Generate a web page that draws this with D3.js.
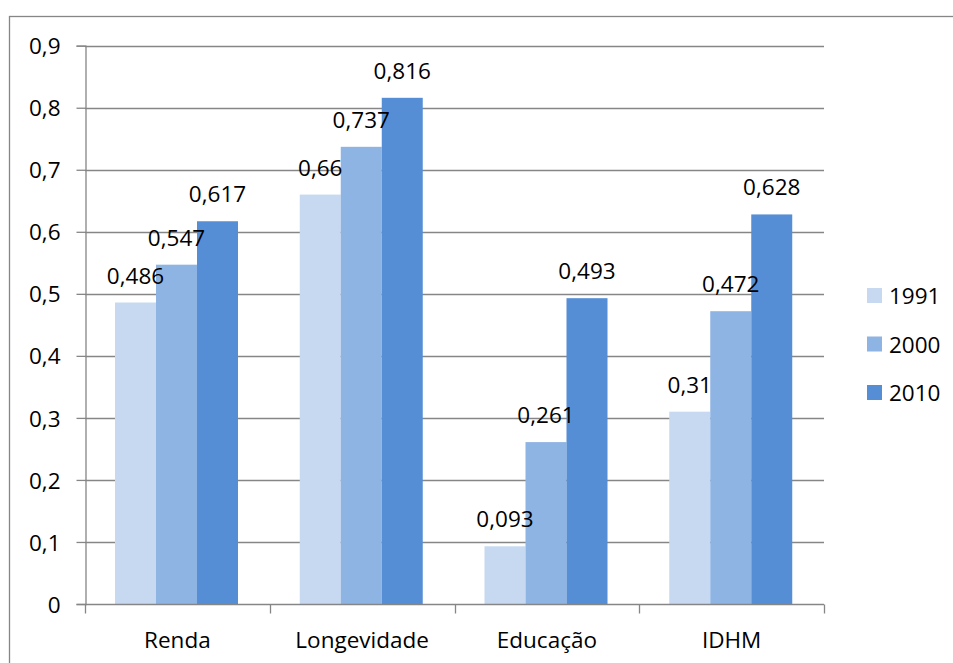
<!DOCTYPE html>
<html>
<head>
<meta charset="utf-8">
<script src="https://cdn.jsdelivr.net/npm/d3@7"></script>
<style>
  html, body { margin: 0; padding: 0; background: #fff; }
  svg { display: block; }
  text { font-family: "Open Sans", sans-serif; fill: #000; }
</style>
</head>
<body>
<svg id="chart" width="953" height="663"></svg>
<script>
// Índices do IDHM por dimensão e ano
const categories = ["Renda", "Longevidade", "Educação", "IDHM"];
const years = ["1991", "2000", "2010"];
const values1991 = [0.486, 0.66, 0.093, 0.31];
const values2000 = [0.547, 0.737, 0.261, 0.472];
const values2010 = [0.617, 0.816, 0.493, 0.628];
const yTicks = [0, 0.1, 0.2, 0.3, 0.4, 0.5, 0.6, 0.7, 0.8, 0.9];
const colors = ["#C6D9F1", "#8EB4E3", "#558ED5"];

const seriesValues = [values1991, values2000, values2010];
const fmt = v => String(v).replace(".", ",");
const fontSize = "22.5px";

const svg = d3.select("#chart");

// Moldura do gráfico (só borda esquerda e superior ficam visíveis)
svg.append("rect")
  .attr("x", 9.5).attr("y", 16.5)
  .attr("width", 1000).attr("height", 1000)
  .attr("fill", "none").attr("stroke", "#868686").attr("stroke-width", 1.3);

const plotLeft = 85, plotRight = 824, plotTop = 45.7, plotBottom = 604;

const y = d3.scaleLinear().domain([0, 0.9]).range([plotBottom, plotTop]);
const x0 = d3.scaleBand().domain(categories).range([plotLeft, plotRight]).paddingInner(0).paddingOuter(0);
const x1 = d3.scaleBand().domain(years).range([30, 153]);

// Linhas de grade horizontais
svg.append("g").selectAll("line")
  .data(yTicks.filter(t => t > 0))
  .join("line")
  .attr("x1", plotLeft).attr("x2", plotRight)
  .attr("y1", d => Math.round(y(d)) + 0.5).attr("y2", d => Math.round(y(d)) + 0.5)
  .attr("stroke", "#868686").attr("stroke-width", 1.3);

// Barras
const groups = svg.append("g").selectAll("g")
  .data(categories)
  .join("g")
  .attr("transform", d => `translate(${x0(d)},0)`);

groups.selectAll("rect")
  .data((c, i) => years.map((yr, s) => ({ yr, v: seriesValues[s][i], s })))
  .join("rect")
  .attr("x", d => x1(d.yr))
  .attr("width", x1.bandwidth())
  .attr("y", d => y(d.v))
  .attr("height", d => y(0) - y(d.v))
  .attr("fill", d => colors[d.s]);

// Rótulos de valor
groups.selectAll("text")
  .data((c, i) => years.map((yr, s) => ({ yr, v: seriesValues[s][i], s })))
  .join("text")
  .attr("x", d => x1(d.yr) + x1.bandwidth() / 2)
  .attr("y", d => y(d.v) - 19)
  .attr("text-anchor", "middle")
  .style("font-size", fontSize)
  .text(d => fmt(d.v));

// Eixo Y
const yAxis = d3.axisLeft(y).tickValues(yTicks).tickSize(9).tickPadding(16)
  .tickFormat(d => fmt(d));
const gy = svg.append("g").attr("transform", `translate(${plotLeft + 0.5},0)`).call(yAxis);
gy.attr("font-family", null).attr("font-size", null);
gy.selectAll("path, line").attr("stroke", "#868686").attr("stroke-width", 1.3);
gy.selectAll("text").style("font-size", fontSize).attr("dy", "0.36em");

// Eixo X
const xAxis = d3.axisBottom(x0).tickSize(0).tickPadding(0);
const gx = svg.append("g").attr("transform", `translate(0,${plotBottom + 0.5})`).call(xAxis);
gx.attr("font-family", null).attr("font-size", null);
gx.select("path").attr("d", `M${plotLeft},0H${plotRight}`).attr("stroke", "#868686").attr("stroke-width", 1.3);
gx.selectAll(".tick text").attr("y", 43).attr("dy", null).style("font-size", fontSize);
// Marcas de separação entre categorias
gx.append("g").selectAll("line")
  .data(categories.map(c => x0(c)).concat([plotRight]))
  .join("line")
  .attr("x1", d => Math.round(d) + 0.5).attr("x2", d => Math.round(d) + 0.5)
  .attr("y1", 0).attr("y2", 9)
  .attr("stroke", "#868686").attr("stroke-width", 1.3);

// Legenda
const legend = svg.append("g").selectAll("g")
  .data(years)
  .join("g")
  .attr("transform", (d, i) => `translate(867,${288 + i * 48.5})`);
legend.append("rect").attr("width", 15).attr("height", 15)
  .attr("fill", (d, i) => colors[i]);
legend.append("text").attr("x", 22).attr("y", 16)
  .style("font-size", fontSize).text(d => d);
</script>
</body>
</html>
